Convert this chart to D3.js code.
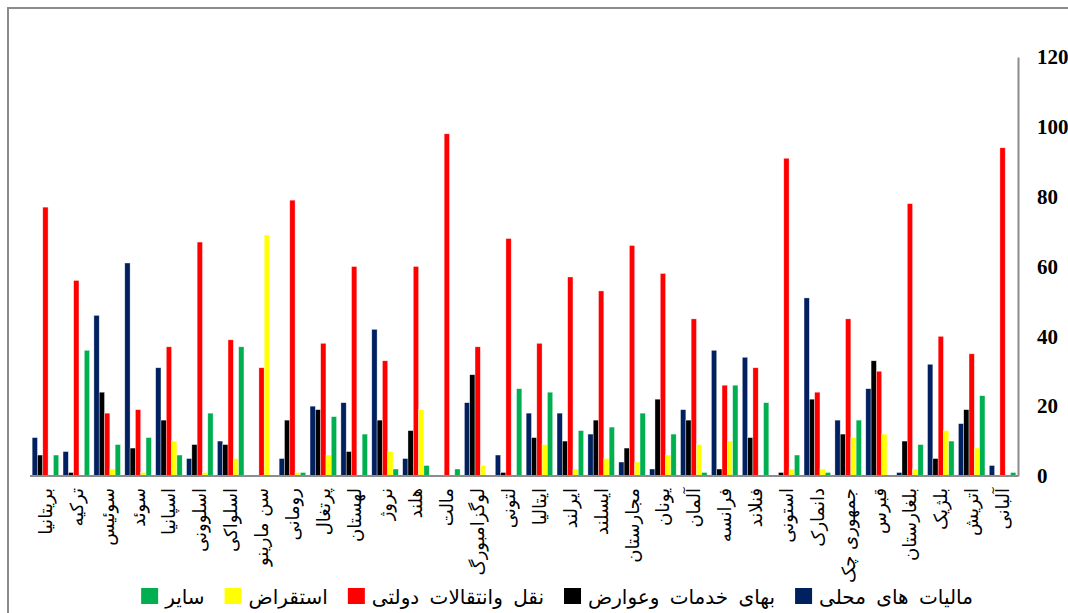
<!DOCTYPE html>
<html>
<head>
<meta charset="utf-8">
<script src="https://cdn.jsdelivr.net/npm/d3@7"></script>
<style>
  body { margin: 0; background: #fff; }
  svg { display: block; }
</style>
</head>
<body>
<div id="chart"></div>
<script>
// countries, left to right
var countries = ['بریتانیا', 'ترکیه', 'سوئیس', 'سوئد', 'اسپانیا', 'اسلوونی', 'اسلواکی', 'سن مارینو',
  'رومانی', 'پرتغال', 'لهستان', 'نروژ', 'هلند', 'مالت', 'لوگزامبورگ', 'لتونی', 'ایتالیا', 'ایرلند',
  'ایسلند', 'مجارستان', 'یونان', 'آلمان', 'فرانسه', 'فنلاند', 'استونی', 'دانمارک', 'جمهوری چک',
  'قبرس', 'بلغارستان', 'بلژیک', 'اتریش', 'آلبانی'];

var localTaxes = [11, 7, 46, 61, 31, 5, 10, 0, 5, 20, 21, 42, 5, 0, 21, 6, 18, 18, 12, 4, 2, 19, 36, 34, 0, 51, 16, 25, 1, 32, 15, 3];
var serviceFees = [6, 1, 24, 8, 16, 9, 9, 0, 16, 19, 7, 16, 13, 0, 29, 1, 11, 10, 16, 8, 22, 16, 2, 11, 1, 22, 12, 33, 10, 5, 19, 0];
var transfers = [77, 56, 18, 19, 37, 67, 39, 31, 79, 38, 60, 33, 60, 98, 37, 68, 38, 57, 53, 66, 58, 45, 26, 31, 91, 24, 45, 30, 78, 40, 35, 94];
var borrowing = [0, 0, 2, 1, 10, 1, 5, 69, 1, 6, 0, 7, 19, 0, 3, 0, 9, 2, 5, 4, 6, 9, 10, 0, 2, 2, 11, 12, 2, 13, 8, 0];
var other = [6, 36, 9, 11, 6, 18, 37, 0, 1, 17, 12, 2, 3, 2, 0, 25, 24, 13, 14, 18, 12, 1, 26, 21, 6, 1, 16, 0, 9, 10, 23, 1];

var seriesNames = ['مالیات های محلی', 'بهای خدمات وعوارض', 'نقل وانتقالات دولتی', 'استقراض', 'سایر'];
var seriesValues = [localTaxes, serviceFees, transfers, borrowing, other];
var colors = ['#002060', '#000000', '#FF0000', '#FFFF00', '#00B050'];
var yTicks = [0, 20, 40, 60, 80, 100, 120];

var W = 1068, H = 613;
var plot = {left: 30, right: 1018, top: 57, bottom: 476};

var svg = d3.select('#chart').append('svg')
    .attr('width', W)
    .attr('height', H);

// outer chart frame (only top and left visible)
svg.append('path')
    .attr('d', 'M8,' + H + 'V8H' + W)
    .attr('fill', 'none')
    .attr('stroke', '#8c8c8c')
    .attr('stroke-width', 2);

var x0 = d3.scaleBand().domain(countries).range([plot.left, plot.right]).paddingInner(0.14).paddingOuter(0.07);
var x1 = d3.scaleBand().domain(d3.range(seriesNames.length)).range([0, x0.bandwidth()]);
var y = d3.scaleLinear().domain([0, 120]).range([plot.bottom, plot.top]);

// bars
var groups = svg.append('g').selectAll('g')
    .data(countries)
    .enter().append('g')
    .attr('transform', function(d) { return 'translate(' + x0(d) + ',0)'; });

groups.selectAll('rect')
    .data(function(d, i) {
        return seriesValues.map(function(s, k) { return {k: k, v: s[i]}; });
    })
    .enter().append('rect')
    .attr('x', function(d) { return x1(d.k); })
    .attr('width', x1.bandwidth())
    .attr('y', function(d) { return y(d.v); })
    .attr('height', function(d) { return y(0) - y(d.v); })
    .attr('fill', function(d) { return colors[d.k]; })
    .attr('stroke', '#ffffff')
    .attr('stroke-opacity', 0.6)
    .attr('stroke-width', 0.6);

// baseline
svg.append('line')
    .attr('x1', plot.left).attr('x2', plot.right)
    .attr('y1', y(0)).attr('y2', y(0))
    .attr('stroke', '#8c8c8c').attr('stroke-width', 2);

// right value axis
var yAxis = d3.axisRight(y).tickValues(yTicks).tickSize(0).tickPadding(19);
var ya = svg.append('g')
    .attr('transform', 'translate(' + plot.right + ',0)')
    .call(yAxis);
ya.select('.domain').attr('stroke', '#8c8c8c').attr('stroke-width', 2);
ya.selectAll('text')
    .attr('font-family', '"Liberation Serif", "Times New Roman", serif')
    .attr('font-weight', 'bold')
    .attr('font-size', 21)
    .attr('fill', '#000');

// category labels, rotated
svg.append('g').selectAll('text')
    .data(countries)
    .enter().append('text')
    .attr('transform', function(d) {
        return 'translate(' + (x0(d) + x0.bandwidth() / 2) + ',' + (plot.bottom + 12) + ') rotate(-90)';
    })
    .attr('text-anchor', 'end')
    .attr('dominant-baseline', 'central')
    .attr('font-family', '"DejaVu Sans", sans-serif')
    .attr('font-size', 18)
    .attr('fill', '#000')
    .text(function(d) { return d; });

// legend: left to right, square then label
var legendOrder = [4, 3, 2, 1, 0];
var legend = svg.append('g');
var cx = 0;
legendOrder.forEach(function(k, i) {
    legend.append('rect')
        .attr('x', cx).attr('y', 588)
        .attr('width', 17).attr('height', 16)
        .attr('fill', colors[k]);
    var t = legend.append('text')
        .attr('x', cx + 24).attr('y', 604)
        .attr('font-family', '"DejaVu Sans", sans-serif')
        .attr('font-size', 20)
        .attr('word-spacing', 4)
        .attr('fill', '#000')
        .text(seriesNames[k]);
    cx += 24 + t.node().getComputedTextLength() + 20;
});
var legendWidth = cx - 20;
legend.attr('transform', 'translate(' + (557 - legendWidth / 2) + ',0)');
</script>
</body>
</html>
